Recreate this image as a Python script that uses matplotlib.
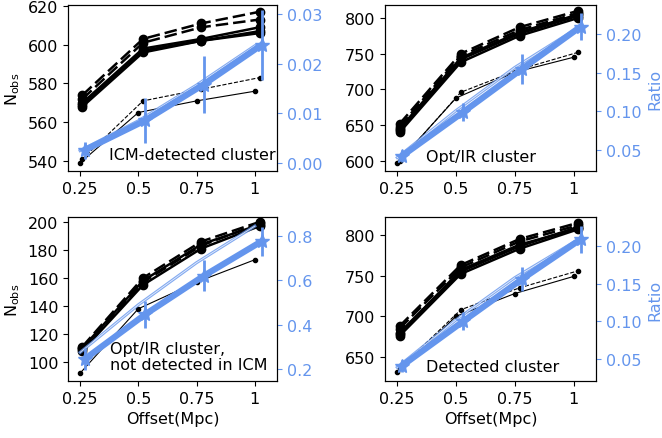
"""Четыре панели: N_obs (чёрные) и Ratio (голубые) в зависимости от смещения."""

import matplotlib

matplotlib.use("Agg")
import matplotlib.pyplot as plt

BLUE = "cornflowerblue"

X_TICKS = [0.25, 0.5, 0.75, 1.0]
X_LABELS = ["0.25", "0.5", "0.75", "1"]
X_THICK = [0.26, 0.52, 0.77, 1.02]
X_THIN = [0.25, 0.5, 0.75, 1.0]
X_THIN2 = [0.26, 0.52, 0.77, 1.02]
X_BLUE = [0.27, 0.53, 0.78, 1.03]

# --- ICM-detected cluster ---
icm_dashed = [[574, 603, 611, 617], [572, 601, 609, 613]]
icm_solid = [[570, 598, 603, 609], [568, 596, 602, 606], [569, 597, 602, 607]]
icm_thin_dashed = [541, 571, 577, 583]
icm_thin_solid = [539, 565, 571, 576]
icm_ratio = [0.0026, 0.0086, 0.0158, 0.0238]
icm_ratio_err = [0.0017, 0.0045, 0.0058, 0.007]
icm_ratio_thin = [0.0025, 0.0085, 0.0157, 0.0236]

# --- Opt/IR cluster ---
opt_dashed = [[652, 750, 787, 810], [648, 747, 783, 807]]
opt_solid = [[643, 742, 778, 803], [640, 738, 775, 800], [645, 744, 780, 805]]
opt_thin_dashed = [600, 696, 728, 752]
opt_thin_solid = [597, 688, 724, 745]
opt_ratio = [0.042, 0.099, 0.155, 0.21]
opt_ratio_err = [0.008, 0.012, 0.02, 0.017]
opt_ratio_thin = [0.04, 0.101, 0.157, 0.205]

# --- Opt/IR cluster, not detected in ICM ---
nd_dashed = [[111, 160, 186, 200], [109, 157, 183, 199]]
nd_solid = [[108, 155, 181, 197], [110, 158, 184, 198]]
nd_thin_dashed = None
nd_thin_solid = [92, 138, 157, 173]
nd_ratio = [0.245, 0.447, 0.62, 0.777]
nd_ratio_err = [0.05, 0.06, 0.07, 0.065]
nd_ratio_thin = [0.275, 0.49, 0.68, 0.845]

# --- Detected cluster ---
det_dashed = [[688, 763, 795, 815], [685, 760, 792, 812]]
det_solid = [[680, 755, 786, 810], [676, 752, 783, 807], [678, 757, 788, 808]]
det_thin_dashed = [636, 708, 735, 756]
det_thin_solid = [631, 700, 728, 749]
det_ratio = [0.041, 0.1, 0.156, 0.209]
det_ratio_err = [0.008, 0.012, 0.016, 0.018]
det_ratio_thin = [0.039, 0.102, 0.158, 0.205]

PANELS = [
    dict(dashed=icm_dashed, solid=icm_solid, thin_d=icm_thin_dashed,
         thin_s=icm_thin_solid, ratio=icm_ratio, err=icm_ratio_err,
         ratio_thin=icm_ratio_thin,
         ylim=(534.8, 620.5), yticks=[540, 560, 580, 600, 620],
         rlim=(-0.0016, 0.0318), rticks=[0.0, 0.01, 0.02, 0.03], rfmt="%.2f",
         text="ICM-detected cluster", tx=0.995, ty=0.1, ha="right",
         pos=[0.1027, 0.6082, 0.3157, 0.3781], left=True, bottom=False),
    dict(dashed=opt_dashed, solid=opt_solid, thin_d=opt_thin_dashed,
         thin_s=opt_thin_solid, ratio=opt_ratio, err=opt_ratio_err,
         ratio_thin=opt_ratio_thin,
         ylim=(586, 818), yticks=[600, 650, 700, 750, 800],
         rlim=(0.0226, 0.238), rticks=[0.05, 0.10, 0.15, 0.20], rfmt="%.2f",
         text="Opt/IR cluster", tx=0.455, ty=0.085, ha="center",
         pos=[0.5816, 0.6082, 0.3187, 0.3781], left=False, bottom=False),
    dict(dashed=nd_dashed, solid=nd_solid, thin_d=nd_thin_dashed,
         thin_s=nd_thin_solid, ratio=nd_ratio, err=nd_ratio_err,
         ratio_thin=nd_ratio_thin,
         ylim=(86.4, 203.5), yticks=[100, 120, 140, 160, 180, 200],
         rlim=(0.146, 0.886), rticks=[0.2, 0.4, 0.6, 0.8], rfmt="%.1f",
         text="Opt/IR cluster,\nnot detected in ICM", tx=0.2, ty=0.15,
         ha="left",
         pos=[0.1027, 0.1298, 0.3157, 0.3736], left=True, bottom=True),
    dict(dashed=det_dashed, solid=det_solid, thin_d=det_thin_dashed,
         thin_s=det_thin_solid, ratio=det_ratio, err=det_ratio_err,
         ratio_thin=det_ratio_thin,
         ylim=(620.5, 822), yticks=[650, 700, 750, 800],
         rlim=(0.0208, 0.2385), rticks=[0.05, 0.10, 0.15, 0.20], rfmt="%.2f",
         text="Detected cluster", tx=0.51, ty=0.09, ha="center",
         pos=[0.5816, 0.1298, 0.3187, 0.3736], left=False, bottom=True),
]

plt.rcParams["font.size"] = 11.5

fig = plt.figure(figsize=(6.62, 4.39), dpi=100)

for p in PANELS:
    ax = fig.add_axes(p["pos"])
    for ys in p["dashed"]:
        ax.plot(X_THICK, ys, color="k", lw=1.8, ls="--", dashes=(5, 2),
                marker="o", ms=6)
    for ys in p["solid"]:
        ax.plot(X_THICK, ys, color="k", lw=1.8, marker="o", ms=6)
    if p["thin_d"] is not None:
        ax.plot(X_THIN2, p["thin_d"], color="k", lw=0.8, ls="--",
                marker="o", ms=3)
    ax.plot(X_THIN, p["thin_s"], color="k", lw=0.8, marker="o", ms=3)
    ax.set_ylim(*p["ylim"])
    ax.set_yticks(p["yticks"])
    ax.set_xlim(0.198, 1.095)
    ax.set_xticks(X_TICKS)
    ax.set_xticklabels(X_LABELS)
    if p["left"]:
        ax.set_ylabel(r"N$_{\rm obs}$")
    if p["bottom"]:
        ax.set_xlabel("Offset(Mpc)")
    ax.text(p["tx"], p["ty"], p["text"], transform=ax.transAxes,
            ha=p["ha"], va="center", fontsize=11.5, linespacing=1.05)

    rax = ax.twinx()
    rax.plot(X_THIN, p["ratio_thin"], color=BLUE, lw=2.2, alpha=0.8)
    rax.plot(X_THIN, p["ratio_thin"], color="white", lw=0.6, alpha=0.8)
    rax.errorbar(X_BLUE, p["ratio"], yerr=p["err"], color=BLUE, lw=4.5,
                 elinewidth=2, marker="*", ms=10, capsize=0)
    rax.set_ylim(*p["rlim"])
    rax.set_yticks(p["rticks"])
    rax.yaxis.set_major_formatter(matplotlib.ticker.FormatStrFormatter(p["rfmt"]))
    rax.tick_params(axis="y", colors=BLUE)
    if not p["left"]:
        rax.set_ylabel("Ratio", color=BLUE)

fig.savefig("out.png", dpi=100)
